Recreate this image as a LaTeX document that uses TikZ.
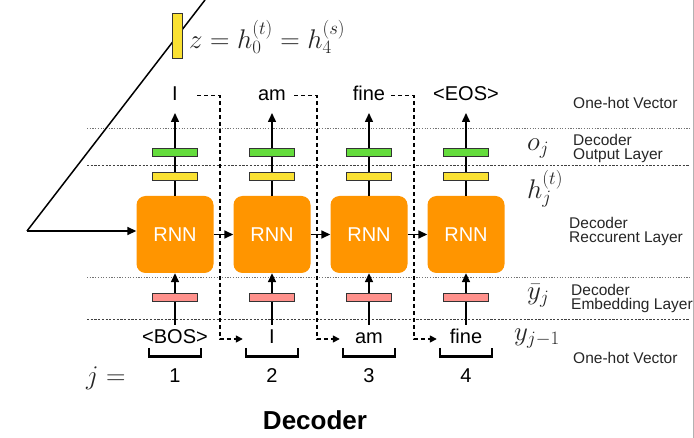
\RequirePackage{fix-cm}
\documentclass[tikz,border=0pt]{standalone}
\usepackage{fontspec}
\newfontfamily\lsans{Liberation Sans}
\usetikzlibrary{arrows.meta}
\definecolor{rnnorange}{RGB}{255,149,0}
\definecolor{gcol}{RGB}{100,220,60}
\definecolor{ycol}{RGB}{250,225,50}
\definecolor{pcol}{RGB}{255,145,140}
\begin{document}
\begin{tikzpicture}[x=1pt,y=-1pt,
  rnnbox/.style={fill=rnnorange, rounded corners=9pt, minimum width=77pt, minimum height=77pt, inner sep=0pt, text=white, font=\lsans\fontsize{20}{24}\selectfont},
  vecbox/.style={draw=black!80, line width=0.8pt, minimum width=45pt, minimum height=8pt, inner sep=0pt},
  word/.style={font=\lsans\fontsize{20}{23}\selectfont, text height=14pt, text depth=4pt, inner sep=0pt, minimum width=44pt},
  conn/.style={line width=1.5pt, -{Triangle[length=9pt,width=8pt]}},
  fb/.style={line width=1.5pt, dash pattern=on 4pt off 3pt, -{Triangle[length=7pt,width=7pt]}},
  lbl/.style={font=\lsans\fontsize{15.5}{14}\selectfont, align=left, anchor=west, inner sep=0pt, text=black!85},
  mlbl/.style={font=\fontsize{27}{32}\selectfont, anchor=west, inner sep=0pt, text=black!85},
  gridA/.style={black!55, line width=0.9pt, dash pattern=on 1.2pt off 1.5pt},
  gridB/.style={black!75, line width=0.8pt, dash pattern=on 2.2pt off 1.5pt}
]
\useasboundingbox (0,0) rectangle (694,438);
\fill[white] (0,0) rectangle (694,438);

% layer separator lines
\draw[gridA] (87,128) -- (690,128);
\draw[gridB] (87,165) -- (690,165);
\draw[gridA] (87,277) -- (690,277);
\draw[gridB] (87,319) -- (690,319);
\draw[gray!60, line width=1pt] (693,0) -- (693,438);

% columns
\foreach \i/\x/\tw/\bw in {1/175/I/{<BOS>},2/272/am/I,3/369/fine/am,4/466/{<EOS>}/fine}{
  \node[rnnbox] (rnn\i) at (\x,234.5) {RNN};
  \node[word, anchor=base] (top\i) at (\x,100.7) {\tw};
  \node[word, anchor=base, minimum width=58pt] (bot\i) at (\x,344) {\bw};
  \node[word, anchor=base] (num\i) at (\x,383) {\i};
  \coordinate (ta\i) at (\x,113);
  \coordinate (ba\i) at (\x,325);
  \coordinate (v\i) at (\x+45,200);
  \draw[conn] (rnn\i.north) -- (ta\i);
  \draw[conn] (ba\i) -- (rnn\i.south);
  \node[vecbox, fill=ycol] (yl\i) at (\x,176) {};
  \node[vecbox, fill=gcol] (g\i) at (\x,152) {};
  \node[vecbox, fill=pcol] (pk\i) at (\x,297.5) {};
  \draw[line width=2.5pt] (\x-26,348) -- (\x-26,356.5) -- (\x+26,356.5) -- (\x+26,348);
}

% recurrent arrows
\draw[conn] (rnn1.east) -- (rnn2.west);
\draw[conn] (rnn2.east) -- (rnn3.west);
\draw[conn] (rnn3.east) -- (rnn4.west);

% feedback connectors
\foreach \i/\j in {1/2,2/3,3/4}{
  \draw[fb] (top\i.east) -| (v\i) |- (bot\j.west);
}

% encoder input
\coordinate (in) at (27,231);
\coordinate (zt) at (205,0);
\draw[line width=1.5pt] (zt) -- (in);
\draw[conn] (in) -- (in -| rnn1.west);
\node[draw=black!80, fill=ycol, minimum width=10pt, minimum height=45pt, inner sep=0pt, line width=0.8pt] (zbox) at (177,35.5) {};
\node[mlbl] (zl) at (189,37) {$z = h_0^{(t)} = h_4^{(s)}$};

% math labels
\node[mlbl] (oj) at (527,149) {$o_j$};
\node[mlbl] (hj) at (527,189) {$h_j^{(t)}$};
\node[mlbl] (ybj) at (527,296) {$\bar{y}_j$};
\node[mlbl] (yj) at (514,339) {$y_{j-1}$};
\node[mlbl] (jeq) at (86,378) {$j =$};

% layer labels
\node[lbl] (l1) at (573,103) {One-hot Vector};
\node[lbl] (l2) at (573,148) {Decoder\\Output Layer};
\node[lbl] (l3) at (569,231) {Decoder\\Reccurent Layer};
\node[lbl] (l4) at (571,298) {Decoder\\Embedding Layer};
\node[lbl] (l5) at (573,358) {One-hot Vector};

\node[font=\lsans\bfseries\fontsize{26}{30}\selectfont, anchor=base] (title) at (315,429) {Decoder};
\end{tikzpicture}
\end{document}
